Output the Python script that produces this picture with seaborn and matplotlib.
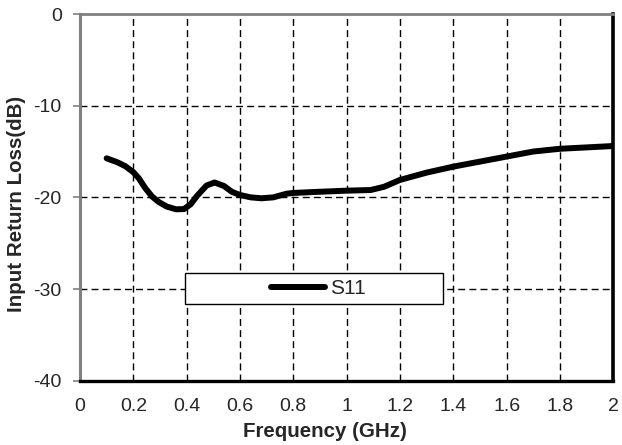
import numpy as np
import pandas as pd
import matplotlib
matplotlib.use('Agg')
import matplotlib.pyplot as plt
from matplotlib.patches import Rectangle
import seaborn as sns

# 数据
freq = [0.10, 0.14, 0.17, 0.20, 0.22, 0.245, 0.27, 0.295, 0.325, 0.36, 0.39,
        0.415, 0.44, 0.475, 0.505, 0.54, 0.57, 0.60, 0.64, 0.68, 0.725, 0.775,
        0.80, 0.89, 1.00, 1.09, 1.14, 1.20, 1.30, 1.40, 1.50, 1.60, 1.70,
        1.80, 1.90, 2.00]
s11 = [-15.74, -16.17, -16.6, -17.25, -17.9, -19.0, -19.9, -20.5, -21.0, -21.3, -21.28,
       -20.75, -19.8, -18.7, -18.38, -18.76, -19.4, -19.74, -20.0, -20.1, -20.0, -19.6,
       -19.52, -19.4, -19.27, -19.2, -18.85, -18.1, -17.3, -16.65, -16.1, -15.55, -15.0,
       -14.7, -14.55, -14.4]
x_ticks = [0, 0.2, 0.4, 0.6, 0.8, 1.0, 1.2, 1.4, 1.6, 1.8, 2.0]
x_labels = ['0', '0.2', '0.4', '0.6', '0.8', '1', '1.2', '1.4', '1.6', '1.8', '2']
y_ticks = [0, -10, -20, -30, -40]
y_labels = ['0', '-10', '-20', '-30', '-40']

df = pd.DataFrame({'freq': freq, 'S11': s11})

sns.set_style('white')
plt.rcParams['font.family'] = ['Liberation Sans', 'DejaVu Sans']

fig, ax = plt.subplots(figsize=(6.22, 4.45), dpi=100)
fig.subplots_adjust(left=0.1286, right=0.986, bottom=0.1445, top=0.9685)

sns.lineplot(data=df, x='freq', y='S11', color='black', linewidth=4.3,
             label='S11', ax=ax, solid_capstyle='round', solid_joinstyle='round')

ax.set_xlim(0, 2)
ax.set_ylim(-40, 0)
ax.set_xticks(x_ticks)
ax.set_xticklabels(x_labels, fontsize=14)
ax.set_yticks(y_ticks)
ax.set_yticklabels(y_labels, fontsize=14)
ax.tick_params(axis='x', length=0, pad=12.5)
ax.tick_params(axis='y', length=4.8, width=1.2, color='#808080', pad=8.4, left=True)

# 网格
ax.set_axisbelow(True)
for xv in x_ticks[1:-1]:
    ax.axvline(xv, color='black', lw=1.0, ls=(0, (5, 3)), zorder=1)
for yv in y_ticks[1:-1]:
    ax.axhline(yv, color='black', lw=1.0, ls=(0, (5, 3)), zorder=1)

# 边框
ax.spines['left'].set_color('#808080')
ax.spines['left'].set_linewidth(2.2)
ax.spines['top'].set_color('#808080')
ax.spines['top'].set_linewidth(2.0)
ax.spines['right'].set_color('black')
ax.spines['right'].set_linewidth(2.6)
ax.spines['bottom'].set_color('black')
ax.spines['bottom'].set_linewidth(2.4)
for s in ax.spines.values():
    s.set_visible(True)

ax.set_xlabel('Frequency (GHz)', fontsize=14.8, fontweight='bold')
ax.set_ylabel('Input Return Loss(dB)', fontsize=14.8, fontweight='bold')
ax.xaxis.set_label_coords(0.459, -0.112)
ax.yaxis.set_label_coords(-0.101, 0.483)

# 图例
ax.add_patch(Rectangle((0.197, 0.209), 0.484, 0.0855, transform=ax.transAxes,
                       facecolor='white', edgecolor='black', lw=1.0, zorder=3))
leg = ax.legend(loc='center', bbox_to_anchor=(0.447, 0.252), frameon=False,
                handlelength=2.6, handletextpad=0.25, fontsize=15,
                borderpad=0, borderaxespad=0)
leg.set_zorder(5)

plt.savefig('out.png', dpi=100)
